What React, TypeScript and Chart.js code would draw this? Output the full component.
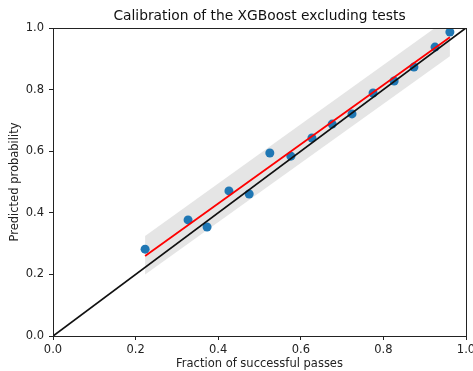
import React, { useEffect, useRef } from "react";
import { Chart, registerables } from "chart.js";

Chart.register(...registerables);

const TITLE = "Calibration of the XGBoost excluding tests";
const X_LABEL = "Fraction of successful passes";
const Y_LABEL = "Predicted probability";

// Calibration points (fraction of successful passes, predicted probability)
const fracPasses = [0.223, 0.327, 0.373, 0.426, 0.475, 0.525, 0.576, 0.627, 0.676, 0.724, 0.775, 0.826, 0.874, 0.925, 0.961];
const predProb = [0.282, 0.377, 0.354, 0.471, 0.461, 0.594, 0.584, 0.643, 0.688, 0.721, 0.789, 0.828, 0.873, 0.938, 0.987];

// Fitted line and its confidence band
const fitX = [0.223, 0.961];
const fitY = [0.26, 0.97];
const bandUpper = [0.325, 1.035];
const bandLower = [0.2, 0.908];

// Perfect calibration diagonal
const diagX = [0, 1];
const diagY = [0, 1];

const tickValues = [0, 0.2, 0.4, 0.6, 0.8, 1.0];

const FONT = "'DejaVu Sans', sans-serif";

const zip = (xs: number[], ys: number[]) => xs.map((x, i) => ({ x, y: ys[i] }));

const framePlugin = {
  id: "frame",
  afterDraw(chart: any) {
    const { ctx, chartArea } = chart;
    ctx.save();
    ctx.strokeStyle = "#222";
    ctx.lineWidth = 1;
    ctx.strokeRect(
      Math.round(chartArea.left) + 0.5,
      Math.round(chartArea.top) + 0.5,
      Math.round(chartArea.right - chartArea.left),
      Math.round(chartArea.bottom - chartArea.top)
    );
    // Title centred over the plot area
    ctx.fillStyle = "#111";
    ctx.font = `13.8px ${FONT}`;
    ctx.textAlign = "center";
    ctx.textBaseline = "middle";
    ctx.fillText(TITLE, (chartArea.left + chartArea.right) / 2, 16);
    ctx.restore();
  },
};

export default function App() {
  const ref = useRef<HTMLCanvasElement | null>(null);

  useEffect(() => {
    if (!ref.current) return;
    const axisCommon = (isX: boolean) => ({
      type: "linear" as const,
      min: 0,
      max: 1,
      afterBuildTicks(scale: any) {
        scale.ticks = tickValues.map((v) => ({ value: v }));
      },
      afterFit(scale: any) {
        if (isX) {
          scale.height = 35;
          scale.paddingLeft = 0;
          scale.paddingRight = 0;
        } else {
          scale.width = 53;
          scale.paddingTop = 0;
          scale.paddingBottom = 0;
        }
      },
      grid: {
        display: true,
        drawOnChartArea: false,
        drawTicks: true,
        tickLength: 4,
        color: "#222",
        lineWidth: 1,
      },
      border: { display: true, color: "#222", width: 1 },
      ticks: {
        color: "#222",
        font: { family: FONT, size: 11.5 },
        padding: isX ? 3 : 5,
        maxRotation: 0,
        autoSkip: false,
        callback: (v: any) => Number(v).toFixed(1),
      },
      title: {
        display: true,
        text: isX ? X_LABEL : Y_LABEL,
        color: "#222",
        font: { family: FONT, size: 11.5 },
        padding: isX ? { top: 0, bottom: 0 } : { top: 8, bottom: 0 },
      },
    });

    const chart = new Chart(ref.current, {
      type: "scatter",
      data: {
        datasets: [
          {
            type: "line",
            label: "band upper",
            data: zip(fitX, bandUpper),
            borderWidth: 0,
            pointRadius: 0,
            backgroundColor: "rgba(150,150,150,0.25)",
            fill: "+1",
            order: 5,
          } as any,
          {
            type: "line",
            label: "band lower",
            data: zip(fitX, bandLower),
            borderWidth: 0,
            pointRadius: 0,
            fill: false,
            order: 5,
          } as any,
          {
            type: "scatter",
            label: "points",
            data: zip(fracPasses, predProb),
            backgroundColor: "#1f77b4",
            borderColor: "#1f77b4",
            pointRadius: 4.5,
            borderWidth: 0,
            order: 4,
          } as any,
          {
            type: "line",
            label: "diagonal",
            data: zip(diagX, diagY),
            borderColor: "#111",
            borderWidth: 1.8,
            pointRadius: 0,
            fill: false,
            order: 3,
          } as any,
          {
            type: "line",
            label: "fit",
            data: zip(fitX, fitY),
            borderColor: "#ff0000",
            borderWidth: 1.8,
            pointRadius: 0,
            fill: false,
            order: 2,
          } as any,
        ],
      },
      options: {
        responsive: false,
        animation: false,
        devicePixelRatio: 1,
        layout: { padding: { left: 0, right: 7, top: 28, bottom: 0 } },
        plugins: {
          legend: { display: false },
          tooltip: { enabled: false },
          title: { display: false },
        },
        scales: {
          x: axisCommon(true) as any,
          y: axisCommon(false) as any,
        },
      },
      plugins: [framePlugin],
    });
    return () => chart.destroy();
  }, []);

  return (
    <div style={{ position: "fixed", left: 0, top: 0, width: 473, height: 371, background: "#fff" }}>
      <canvas ref={ref} width={473} height={371} style={{ width: 473, height: 371 }} />
    </div>
  );
}
